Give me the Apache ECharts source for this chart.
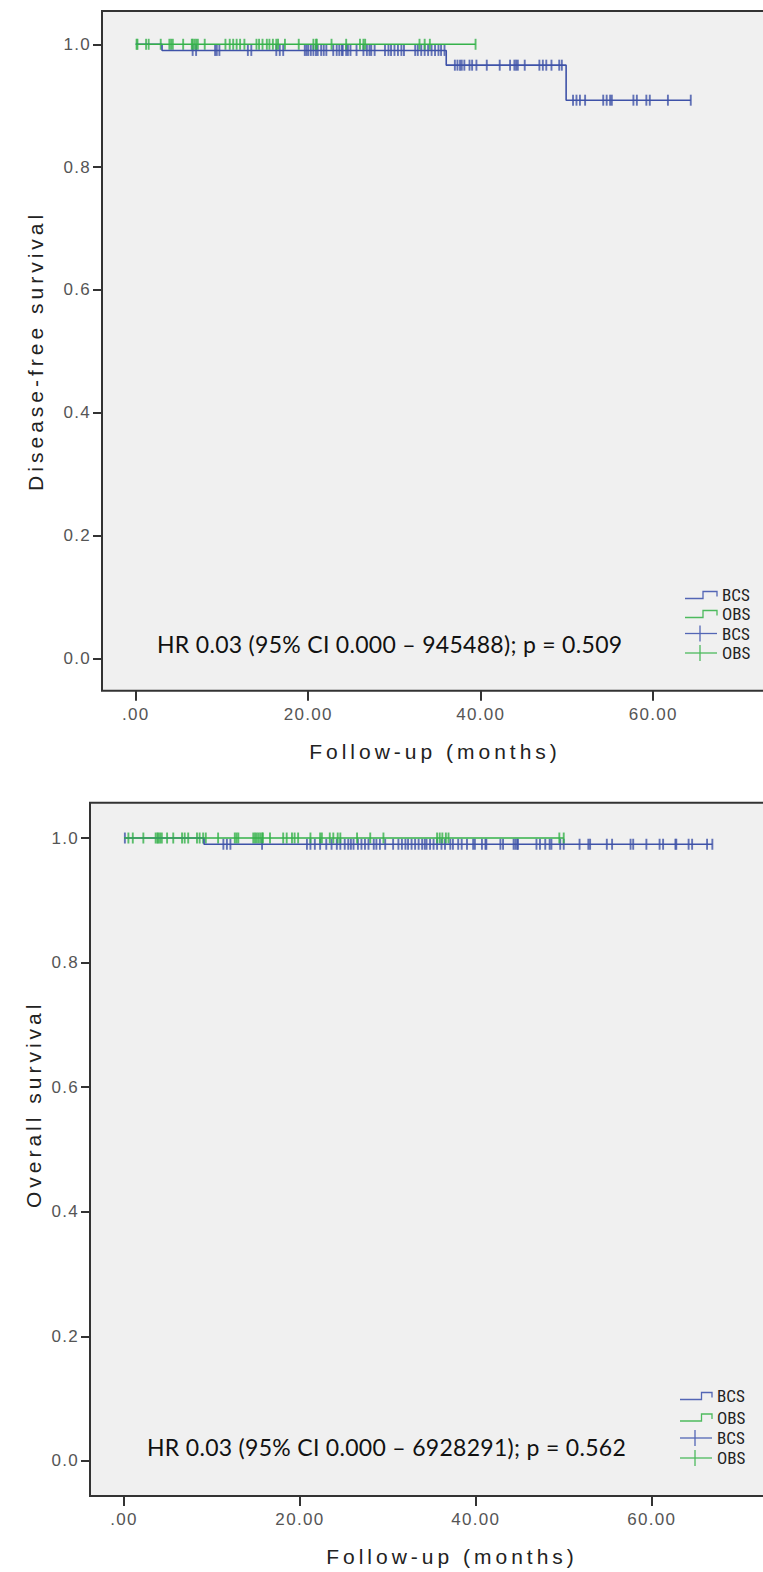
<!DOCTYPE html>
<html><head><meta charset="utf-8">
<script src="https://cdn.jsdelivr.net/npm/echarts@6/dist/echarts.min.js"></script>
<style>html,body{margin:0;padding:0;background:#fff;}#c{width:763px;height:1572px;}</style>
</head><body><div id="c"></div>
<script>
// ---- tick labels ----
const xTicks = [0, 20, 40, 60];
const xTickLabels = ['.00', '20.00', '40.00', '60.00'];
const yTicks = [0, 0.2, 0.4, 0.6, 0.8, 1.0];
const yTickLabels = ['0.0', '0.2', '0.4', '0.6', '0.8', '1.0'];
const groups = ['BCS', 'OBS'];
const xTitle = 'Follow-up (months)';

// ---- Disease-free survival ----
const dfsTitle = 'Disease-free survival';
const dfsBcsTime = [0, 3.05, 36.0, 49.9, 64.35];
const dfsBcsSurv = [1, 0.99, 0.966, 0.909, 0.909];
const dfsObsTime = [0, 39.4];
const dfsObsSurv = [1, 1];
const dfsBcsCensored = [6.6, 7.0, 9.2, 9.4, 9.7, 13.0, 13.4, 16.3, 16.7, 17.1, 19.6, 19.8, 20.0, 20.3, 20.6, 20.9, 21.1, 21.5, 21.8, 22.1, 22.9, 23.3, 23.6, 23.9, 24.0, 24.4, 24.6, 24.9, 25.6, 26.4, 26.8, 27.1, 27.3, 27.7, 28.9, 29.3, 29.6, 30.0, 30.4, 30.8, 31.1, 32.4, 32.7, 33.1, 33.5, 33.9, 34.3, 34.7, 35.1, 35.4, 35.8, 37.0, 37.3, 37.6, 37.8, 38.1, 38.7, 39.0, 39.5, 40.7, 42.2, 43.4, 43.9, 44.1, 44.3, 45.1, 46.8, 47.2, 47.6, 48.2, 49.1, 49.4, 50.7, 51.1, 51.5, 52.1, 54.2, 54.6, 55.0, 55.2, 57.7, 58.1, 59.2, 59.6, 61.7, 64.35];
const dfsObsCensored = [0.1, 0.2, 1.2, 1.5, 2.9, 3.9, 4.1, 4.3, 5.5, 6.5, 6.6, 6.8, 7.0, 7.2, 8.0, 10.4, 10.9, 11.3, 11.7, 12.1, 12.6, 14.0, 14.3, 14.7, 15.2, 15.5, 15.9, 16.3, 16.5, 17.3, 18.9, 20.6, 20.9, 21.0, 22.7, 24.4, 26.0, 26.4, 26.6, 32.9, 33.5, 34.1, 39.4];
const dfsNote = 'HR 0.03 (95% CI 0.000 – 945488); p = 0.509';

// ---- Overall survival ----
const osTitle = 'Overall survival';
const osBcsTime = [0, 9.1, 66.9];
const osBcsSurv = [1, 0.99, 0.99];
const osObsTime = [0, 50.0];
const osObsSurv = [1, 1];
const osBcsCensored = [0.1, 11.3, 11.7, 12.1, 15.7, 20.8, 21.2, 21.7, 22.3, 23.0, 23.6, 24.2, 24.6, 25.1, 25.5, 25.8, 26.1, 26.6, 27.0, 27.4, 27.8, 28.4, 28.7, 29.1, 29.7, 30.6, 31.2, 31.6, 32.0, 32.3, 32.7, 33.1, 33.5, 33.9, 34.2, 34.4, 34.8, 35.2, 35.6, 36.1, 36.5, 37.1, 37.4, 38.0, 38.4, 39.0, 39.7, 39.9, 40.7, 41.1, 41.2, 42.8, 43.1, 44.3, 44.5, 44.7, 44.8, 46.9, 47.3, 47.9, 48.4, 48.6, 49.6, 50.0, 51.8, 52.8, 53.0, 54.9, 55.5, 57.6, 57.9, 59.4, 60.9, 61.3, 62.7, 62.8, 64.2, 64.6, 66.3, 66.9];
const osObsCensored = [0.5, 1.0, 2.2, 3.6, 3.8, 3.9, 4.1, 4.3, 4.9, 5.6, 6.6, 6.9, 7.3, 8.3, 8.6, 9.0, 9.3, 10.7, 12.6, 12.8, 13.0, 14.7, 14.9, 15.1, 15.3, 15.5, 15.7, 15.8, 16.6, 18.1, 18.5, 19.1, 19.4, 19.8, 21.2, 22.3, 22.5, 23.4, 23.8, 24.3, 24.6, 26.5, 28.0, 29.5, 35.6, 35.9, 36.2, 36.6, 36.9, 49.5, 50.0];
const osNote = 'HR 0.03 (95% CI 0.000 – 6928291); p = 0.562';

const BLUE = '#3E52A8', GREEN = '#35B24A';
const LEG_BLUE = '#5366B5', LEG_GREEN = '#4DBA5E';
const NARROW = "'Liberation Sans Narrow','Arial Narrow','Roboto Condensed','Liberation Sans',sans-serif";
const SANS = "'Liberation Sans',Arial,sans-serif";
const NOTE_FONT = "Lato,'Open Sans',sans-serif";

function stepPairs(t, s) { return t.map((v, i) => [v, s[i]]); }
function survAt(t, s, x) { let v = s[0]; for (let i = 0; i < t.length; i++) if (t[i] <= x) v = s[i]; return v; }

function curveSeries(idx, t, s, color, name) {
  return { name: name, type: 'line', step: 'end', xAxisIndex: idx, yAxisIndex: idx,
    data: stepPairs(t, s), symbol: 'none', lineStyle: { color: color, width: 1.6 }, silent: true };
}
function censorSeries(idx, t, s, cens, color, name) {
  return { name: name, type: 'scatter', xAxisIndex: idx, yAxisIndex: idx,
    data: cens.map(c => [c, survAt(t, s, c)]), symbol: 'rect', symbolSize: [1.9, 11],
    itemStyle: { color: color }, silent: true };
}

function xAxisCfg(idx, min, max, pad) {
  return { type: 'value', gridIndex: idx, min: min, max: max,
    name: xTitle, nameLocation: 'middle', nameGap: 50,
    nameTextStyle: { fontSize: 21, color: '#222', fontFamily: SANS, padding: pad },
    axisLine: { show: false, onZero: false }, splitLine: { show: false },
    axisTick: { show: true, inside: false, length: 10, customValues: xTicks, lineStyle: { color: '#333', width: 2 } },
    axisLabel: { customValues: xTicks, margin: 15, fontSize: 17, color: '#555', fontFamily: SANS,
      formatter: v => xTickLabels[xTicks.indexOf(v)] } };
}
function yAxisCfg(idx, min, max, title, gap, pad) {
  return { type: 'value', gridIndex: idx, min: min, max: max,
    name: title, nameLocation: 'middle', nameGap: gap,
    nameTextStyle: { fontSize: 21, color: '#222', fontFamily: SANS, padding: pad },
    axisLine: { show: false, onZero: false }, splitLine: { show: false },
    axisTick: { show: true, inside: false, length: 9, customValues: yTicks, lineStyle: { color: '#333', width: 2 } },
    axisLabel: { customValues: yTicks, margin: 11, fontSize: 17, color: '#555', fontFamily: SANS,
      formatter: v => yTickLabels[yTicks.findIndex(y => Math.abs(y - v) < 1e-6)] } };
}

function legendGraphics(x0, xv, x1, xt, rows) {
  const g = [];
  const cols = [LEG_BLUE, LEG_GREEN, LEG_BLUE, LEG_GREEN];
  rows.forEach((y, i) => {
    const c = cols[i];
    if (i < 2) {
      g.push({ type: 'polyline', shape: { points: [[x0, y + 3.5], [xv, y + 3.5], [xv, y - 3.5], [x1, y - 3.5], [x1, y + 1.5]] },
        style: { stroke: c, lineWidth: 1.3, fill: null }, silent: true });
    } else {
      g.push({ type: 'line', shape: { x1: x0, y1: y, x2: x1, y2: y }, style: { stroke: c, lineWidth: 1.3 }, silent: true });
      g.push({ type: 'line', shape: { x1: (x0 + x1) / 2 - 1, y1: y - 8, x2: (x0 + x1) / 2 - 1, y2: y + 8 }, style: { stroke: c, lineWidth: 1.3 }, silent: true });
    }
    g.push({ type: 'text', x: xt, y: y, style: { text: groups[i % 2], fontSize: 17, fontFamily: NARROW, fill: '#222', verticalAlign: 'middle' }, silent: true });
  });
  return g;
}

const chart = echarts.init(document.getElementById('c'), null, { renderer: 'svg', width: 763, height: 1572 });
const option = {
  animation: false,
  backgroundColor: '#ffffff',
  grid: [
    { left: 102, top: 11, width: 800, height: 679.7, show: true, backgroundColor: '#F0F0F0', borderColor: '#333', borderWidth: 2, outerBoundsMode: 'none', containLabel: false },
    { left: 90, top: 802.7, width: 800, height: 693.3, show: true, backgroundColor: '#F0F0F0', borderColor: '#333', borderWidth: 2, outerBoundsMode: 'none', containLabel: false }
  ],
  xAxis: [ xAxisCfg(0, -3.91, 88.84, [0, 134, 0, 0]), xAxisCfg(1, -3.866, 87.1, [0, 76, 0, 0]) ],
  yAxis: [ yAxisCfg(0, -0.0524, 1.0542, dfsTitle, 56, 0), yAxisCfg(1, -0.0562, 1.0567, osTitle, 44, [0, 0, 0, 90]) ],
  series: [
    curveSeries(0, dfsBcsTime, dfsBcsSurv, BLUE, 'BCS'),
    curveSeries(0, dfsObsTime, dfsObsSurv, GREEN, 'OBS'),
    censorSeries(0, dfsBcsTime, dfsBcsSurv, dfsBcsCensored, BLUE, 'BCS censored'),
    censorSeries(0, dfsObsTime, dfsObsSurv, dfsObsCensored, GREEN, 'OBS censored'),
    curveSeries(1, osBcsTime, osBcsSurv, BLUE, 'BCS'),
    curveSeries(1, osObsTime, osObsSurv, GREEN, 'OBS'),
    censorSeries(1, osBcsTime, osBcsSurv, osBcsCensored, BLUE, 'BCS censored'),
    censorSeries(1, osObsTime, osObsSurv, osObsCensored, GREEN, 'OBS censored')
  ],
  graphic: [
    { type: 'text', x: 157, y: 644, style: { text: dfsNote, fontSize: 23, fontFamily: NOTE_FONT, fill: '#111', verticalAlign: 'middle' }, silent: true },
    { type: 'text', x: 147, y: 1447, style: { text: osNote, fontSize: 23, fontFamily: NOTE_FONT, fill: '#111', verticalAlign: 'middle' }, silent: true }
  ].concat(legendGraphics(685, 703, 717, 722, [595, 614, 633.5, 653]))
   .concat(legendGraphics(680, 701.5, 712, 717, [1396, 1417.5, 1438, 1458]))
};
chart.setOption(option);

function spacing() {
  const texts = document.querySelectorAll('#c svg text');
  texts.forEach(el => {
    const s = el.textContent;
    if (s === dfsTitle || s === osTitle || s === xTitle) el.style.letterSpacing = '4px';
    else if (xTickLabels.includes(s) || yTickLabels.includes(s)) el.style.letterSpacing = '1.3px';
    else if (s === dfsNote || s === osNote) el.style.letterSpacing = '0.3px';
  });
}
spacing();
chart.on('finished', spacing);
</script></body></html>
